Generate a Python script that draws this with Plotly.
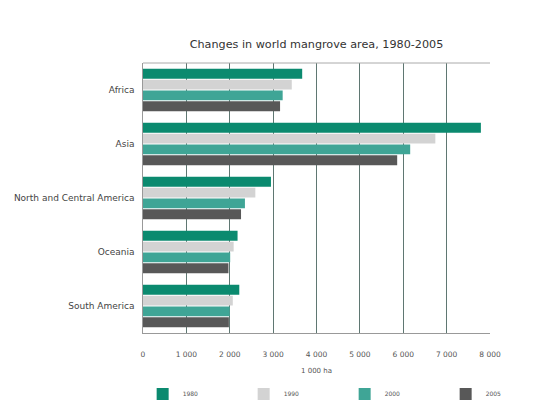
import plotly.graph_objects as go

regions = ["Africa", "Asia", "North and Central America", "Oceania", "South America"]
years = ["1980", "1990", "2000", "2005"]
area_1980 = [3670, 7790, 2950, 2180, 2220]
area_1990 = [3430, 6740, 2590, 2090, 2070]
area_2000 = [3220, 6160, 2350, 2010, 2000]
area_2005 = [3160, 5860, 2260, 1970, 1980]
tick_vals = [0, 1000, 2000, 3000, 4000, 5000, 6000, 7000, 8000]
tick_text = ["0", "1 000", "2 000", "3 000", "4 000", "5 000", "6 000", "7 000", "8 000"]

colors = ["#0b8a6f", "#d3d3d3", "#3fa596", "#585858"]
series = [area_1980, area_1990, area_2000, area_2005]

fig = go.Figure()
for name, vals, col in zip(years, series, colors):
    fig.add_trace(go.Bar(
        y=regions, x=vals, name=name, orientation="h",
        marker=dict(color=col, line=dict(width=0)),
    ))

font = "DejaVu Sans, sans-serif"
W, H = 532, 408
fig.update_layout(
    width=W, height=H,
    margin=dict(l=135, r=50, t=55, b=83, autoexpand=False),
    paper_bgcolor="white", plot_bgcolor="white",
    barmode="group", bargap=0.2, bargroupgap=0.08,
    title=dict(text="Changes in world mangrove area, 1980-2005", x=0.5, xanchor="center",
               xref="paper", y=1 - 36 / H, yanchor="middle",
               font=dict(family=font, size=11.2, color="#333333")),
    font=dict(family=font, size=7, color="#555555"),
    xaxis=dict(range=[0, 8000], tickvals=tick_vals, ticktext=tick_text,
               showgrid=True, gridcolor="#5f7772", gridwidth=1,
               showline=True, linecolor="#999999", linewidth=1, mirror=False,
               zeroline=False, ticks="", tickfont=dict(size=7.5, color="#555555"),
               ticklabelstandoff=14,
               title=dict(text="1 000 ha", font=dict(size=7, color="#555555"), standoff=10)),
    yaxis=dict(autorange="reversed", showline=True, linecolor="#999999", linewidth=1,
               ticks="", tickfont=dict(size=9, color="#444444"), ticksuffix="  "),
    legend=dict(orientation="h", x=-0.001, xanchor="left", y=-0.172, yanchor="top",
                font=dict(size=6, color="#555555"), entrywidth=56, itemwidth=30,
                traceorder="normal"),
    showlegend=True,
)
fig.add_shape(type="line", xref="paper", yref="paper", x0=0, x1=1, y0=1, y1=1,
              line=dict(color="#aaaaaa", width=1))
fig.write_html("out.html")
